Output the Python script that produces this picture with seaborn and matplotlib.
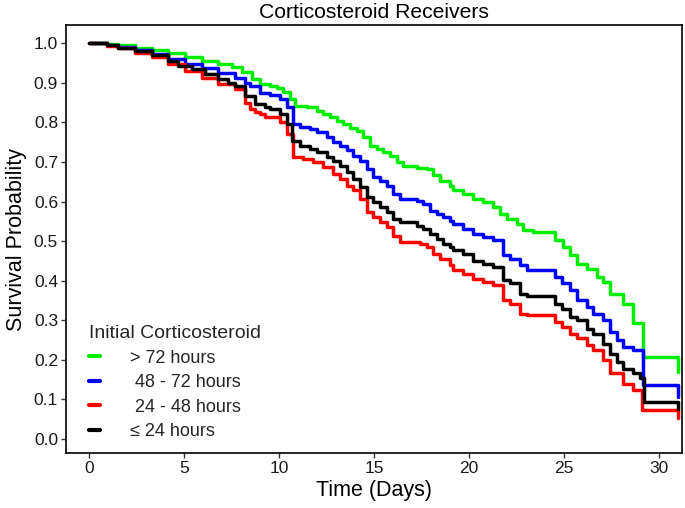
import seaborn as sns
import pandas as pd
import numpy as np
import matplotlib
import matplotlib.pyplot as plt

matplotlib.use("Agg")

# Kaplan-Meier step curves (day, survival)
days_gt72 = [0, 0.93, 1.54, 2.42, 3.3, 4.17, 5.05, 5.93, 6.8, 7.5, 8.03, 8.56, 8.99, 9.52,
             9.87, 10.22, 10.57, 10.84, 11.45, 11.98, 12.33, 12.68, 13.03, 13.38, 13.73,
             14.08, 14.43, 14.78, 15.13, 15.48, 15.83, 16.19, 16.54, 17.24, 17.76, 18.11,
             18.46, 18.99, 19.16, 19.69, 20.21, 20.74, 21.27, 21.62, 21.97, 22.49, 22.84,
             23.37, 24.51, 24.95, 25.3, 25.65, 26.18, 26.7, 27.05, 27.4, 28.1, 28.63,
             29.16, 31.0]
surv_gt72 = [1.0, 0.997, 0.995, 0.989, 0.983, 0.975, 0.964, 0.955, 0.947, 0.939, 0.926,
             0.909, 0.898, 0.892, 0.888, 0.876, 0.859, 0.842, 0.838, 0.829, 0.821, 0.813,
             0.804, 0.796, 0.787, 0.779, 0.762, 0.741, 0.733, 0.724, 0.716, 0.699, 0.691,
             0.685, 0.682, 0.666, 0.653, 0.640, 0.628, 0.619, 0.607, 0.598, 0.586, 0.569,
             0.556, 0.544, 0.527, 0.523, 0.502, 0.485, 0.464, 0.443, 0.430, 0.409, 0.397,
             0.367, 0.342, 0.292, 0.208, 0.170]

days_48_72 = [0, 0.93, 1.54, 2.42, 3.3, 4.17, 5.05, 5.93, 6.8, 7.7, 8.2, 8.47, 8.99, 9.52,
              10.05, 10.4, 10.75, 11.1, 11.63, 11.98, 12.5, 12.85, 13.2, 13.56, 13.91,
              14.26, 14.61, 14.96, 15.31, 15.66, 16.01, 16.36, 17.24, 17.59, 17.94, 18.29,
              18.64, 18.99, 19.16, 19.69, 20.21, 20.74, 21.27, 21.79, 22.14, 22.67, 23.02,
              24.51, 24.86, 25.3, 25.65, 26.18, 26.53, 27.05, 27.4, 27.75, 28.1, 28.63,
              29.16, 31.0]
surv_48_72 = [1.0, 0.996, 0.991, 0.983, 0.972, 0.961, 0.947, 0.937, 0.924, 0.913, 0.900,
              0.892, 0.875, 0.869, 0.859, 0.838, 0.796, 0.789, 0.783, 0.775, 0.762, 0.750,
              0.741, 0.729, 0.716, 0.703, 0.682, 0.661, 0.653, 0.640, 0.619, 0.607, 0.602,
              0.594, 0.577, 0.569, 0.560, 0.552, 0.544, 0.531, 0.519, 0.510, 0.502, 0.464,
              0.456, 0.439, 0.428, 0.409, 0.393, 0.376, 0.350, 0.334, 0.317, 0.300, 0.271,
              0.250, 0.233, 0.224, 0.136, 0.107]

days_24_48 = [0, 0.93, 1.54, 2.42, 3.3, 4.17, 5.05, 5.93, 6.8, 7.7, 8.2, 8.47, 8.73, 8.99,
              9.26, 10.05, 10.4, 10.75, 11.28, 11.8, 12.33, 12.85, 13.2, 13.56, 13.91,
              14.26, 14.61, 14.96, 15.31, 15.66, 16.01, 16.36, 17.41, 17.76, 18.11, 18.46,
              18.99, 19.16, 19.69, 20.21, 20.74, 21.27, 21.79, 22.14, 22.67, 23.02, 24.51,
              24.86, 25.3, 25.65, 26.18, 26.53, 27.05, 27.4, 28.1, 28.63, 29.07, 31.0]
surv_24_48 = [1.0, 0.994, 0.987, 0.976, 0.964, 0.947, 0.930, 0.913, 0.897, 0.884, 0.850,
              0.834, 0.825, 0.821, 0.813, 0.800, 0.771, 0.713, 0.708, 0.699, 0.687, 0.670,
              0.657, 0.640, 0.628, 0.607, 0.573, 0.560, 0.548, 0.535, 0.514, 0.497, 0.493,
              0.485, 0.468, 0.455, 0.439, 0.426, 0.418, 0.405, 0.397, 0.388, 0.350, 0.342,
              0.317, 0.313, 0.296, 0.283, 0.266, 0.254, 0.237, 0.224, 0.199, 0.166, 0.140,
              0.124, 0.073, 0.052]

days_le24 = [0, 0.93, 1.54, 2.42, 3.3, 4.17, 4.7, 5.4, 6.1, 6.8, 7.3, 7.7, 8.2, 8.73,
             9.26, 9.52, 10.05, 10.4, 10.66, 11.1, 11.63, 11.98, 12.5, 12.85, 13.2, 13.56,
             13.91, 14.26, 14.61, 14.96, 15.31, 15.66, 16.01, 16.36, 17.24, 17.59, 17.94,
             18.29, 18.64, 18.99, 19.16, 19.69, 20.21, 20.74, 21.27, 21.79, 22.14, 22.67,
             23.02, 24.51, 24.86, 25.3, 25.65, 26.18, 26.53, 27.05, 27.4, 27.75, 28.1,
             28.63, 28.98, 29.19, 31.0]
surv_le24 = [1.0, 0.995, 0.989, 0.980, 0.970, 0.955, 0.943, 0.934, 0.922, 0.909, 0.900,
             0.892, 0.867, 0.846, 0.838, 0.834, 0.821, 0.796, 0.754, 0.741, 0.733, 0.724,
             0.712, 0.703, 0.691, 0.674, 0.657, 0.636, 0.611, 0.598, 0.586, 0.573, 0.556,
             0.548, 0.539, 0.531, 0.518, 0.506, 0.493, 0.485, 0.477, 0.468, 0.451, 0.443,
             0.434, 0.401, 0.393, 0.367, 0.361, 0.342, 0.329, 0.308, 0.300, 0.279, 0.266,
             0.241, 0.216, 0.195, 0.178, 0.166, 0.153, 0.094, 0.077]

groups = ["> 72 hours", " 48 - 72 hours", " 24 - 48 hours", "\u2264 24 hours"]
colors = ["#00ee00", "#0000ff", "#ff0000", "#000000"]

frames = []
for name, d, s in zip(groups,
                      [days_gt72, days_48_72, days_24_48, days_le24],
                      [surv_gt72, surv_48_72, surv_24_48, surv_le24]):
    frames.append(pd.DataFrame({"day": d, "surv": s, "group": name}))
df = pd.concat(frames, ignore_index=True)

sns.set_theme(style="white")
plt.rcParams["font.family"] = ["Liberation Sans", "DejaVu Sans"]

fig = plt.figure(figsize=(6.85, 5.08), dpi=100)
ax = fig.add_axes([0.0959, 0.1077, 0.8993, 0.8431])

sns.lineplot(data=df, x="day", y="surv", hue="group", hue_order=groups,
             palette=dict(zip(groups, colors)), estimator=None, sort=False,
             drawstyle="steps-post", linewidth=2.5, ax=ax)

ax.set_xlim(-1.23, 31.18)
ax.set_ylim(-0.036, 1.046)
ax.set_xticks([0, 5, 10, 15, 20, 25, 30])
ax.set_yticks(np.arange(0, 1.01, 0.1))
ax.set_yticklabels([f"{v:.1f}" for v in np.arange(0, 1.01, 0.1)])
ax.tick_params(axis="both", which="both", length=3.5, width=1, color="#333333",
               labelsize=12.5, labelcolor="#1a1a1a", direction="out", pad=2,
               bottom=True, left=True)
for sp in ax.spines.values():
    sp.set_visible(True)
    sp.set_color("black")
    sp.set_linewidth(1.2)

ax.set_xlabel("Time (Days)", fontsize=15.5, color="black", labelpad=3)
ax.set_ylabel("Survival Probability", fontsize=15.5, color="black", labelpad=5)
ax.set_title("Corticosteroid Receivers", fontsize=15.2, color="black", pad=5)

leg = ax.legend(title="Initial Corticosteroid", loc="lower left",
                bbox_to_anchor=(0.02, 0.005), frameon=False, fontsize=13,
                title_fontsize=14, handlelength=0.6, handletextpad=1.67,
                labelspacing=0.42, alignment="left", borderaxespad=0.2)
for line in leg.get_lines():
    line.set_linewidth(3)

fig.savefig("out.png", dpi=100)
